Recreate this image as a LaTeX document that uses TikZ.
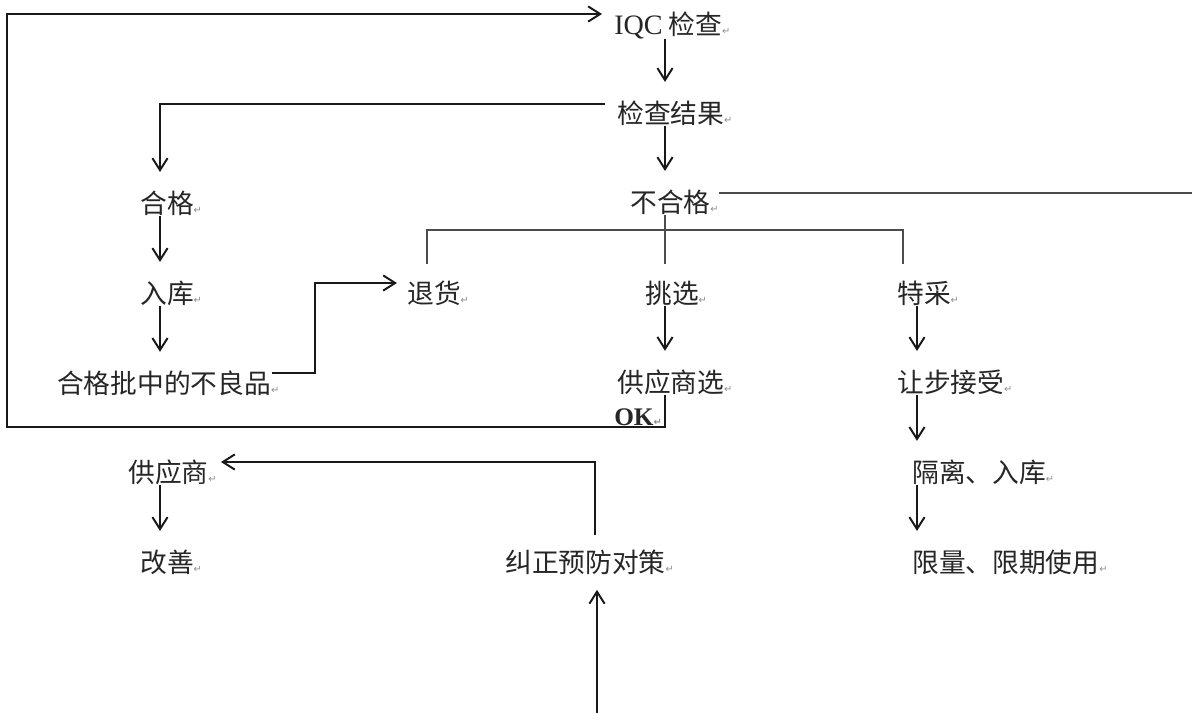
\documentclass[tikz,border=0pt]{standalone}
\usepackage{fontspec}
\usepackage{xcolor}
\usepackage{tikz}
\usetikzlibrary{arrows.meta,positioning,calc}
\setmainfont{Liberation Serif}
\newfontfamily\cjk{Noto Sans CJK SC}
\newfontfamily\symfont{DejaVu Sans}
\newcommand{\parmk}{{\symfont\fontsize{7}{7}\selectfont\color{black!45}↵}}

\begin{document}
\begin{tikzpicture}[
  x=0.025cm, y=-0.025cm,
  lbl/.style={anchor=west, inner sep=0pt, font=\cjk\fontsize{19}{22}\selectfont, text=black!85},
  >={Straight Barb[length=3mm,width=3.8mm]},
  arrline/.style={->, line width=1.4pt, black!90},
  downarr/.style={arrline, shorten >=4.6mm},
  conn/.style={line width=1pt, black!70},
]
\useasboundingbox (0,0) rectangle (1192,713);

% ============ column axes and bend points ============
\coordinate (colL) at (160,0);
\coordinate (colM) at (665,0);
\coordinate (colS) at (917,0);
\coordinate (xRet) at (427,0);
\coordinate (xSpecT) at (903,0);
\coordinate (xCorr) at (595,0);
\coordinate (split) at (665,230);
\coordinate (edgeR) at (1192,193);
\coordinate (jog) at (315,283);
\coordinate (loopB) at (7,427);
\coordinate (loopT) at (7,14);
\coordinate (bot) at (597,713);

% ============ main column ============
\node[lbl] (iqc) at (614,25) {{\rmfamily\fontsize{20}{22}\selectfont IQC} 检查\parmk};
\node[lbl] (result) at (617,113) {检查结果\parmk};
\node[lbl] (unq) at (630,202) {不合格\parmk};

% ============ pass branch (left) ============
\node[lbl] (pass) at (140,203) {合格\parmk};
\node[lbl] (store) at (140,293) {入库\parmk};
\node[lbl] (bad) at (57,383) {合格批中的不良品\parmk};

% ============ reject branches ============
\node[lbl] (ret) at (407,293) {退货\parmk};
\node[lbl] (pick) at (645,293) {挑选\parmk};
\node[lbl] (spsel) at (617,382) {供应商选\parmk};
\node[lbl, font=\rmfamily\bfseries\fontsize{18}{20}\selectfont] (ok) at (614,417) {OK\parmk};
\node[lbl] (spec) at (897,293) {特采\parmk};
\node[lbl] (conc) at (897,382) {让步接受\parmk};
\node[lbl] (iso) at (912,472) {隔离、入库\parmk};
\node[lbl] (limit) at (912,562) {限量、限期使用\parmk};

% ============ supplier / corrective action ============
\node[lbl] (sup) at (128,472) {供应商\parmk};
\node[lbl] (impr) at (140,562) {改善\parmk};
\node[lbl] (corr) at (505,562) {纠正预防对策\parmk};

% ===================== ARROWS =====================

% IQC -> result -> not passed
\draw[downarr] (iqc.south -| colM) -- (result.north -| colM);
\draw[downarr] (result.south -| colM) -- (unq.north -| colM);

% result -> left -> passed
\draw[downarr] ([xshift=-3mm,yshift=-1mm]result.north west) -| (pass.north -| colL);
\draw[downarr] (pass.south -| colL) -- (store.north -| colL);
\draw[downarr] (store.south -| colL) -- (bad.north -| colL);

% not passed -> out to the right edge
\draw[conn] (unq.north east |- edgeR) -- (edgeR);

% not passed splits into return / pick / special
\draw[conn, shorten >=4mm] (unq.south -| colM) -- (pick.north -| colM);
\draw[conn, shorten <=4mm, shorten >=4mm] (ret.north -| xRet) |- (split) -| (spec.north -| xSpecT);

% defects found in passed lots -> return
\draw[arrline] ([shift={(-8,-10)}]bad.east) -| (jog) -- ([shift={(-10,-10)}]ret.west);

% pick -> supplier sorting -> back to IQC
\draw[downarr] (pick.south -| colM) -- (spsel.north -| colM);
\draw[arrline, shorten >=3mm] (spsel.south -| colM) |- (loopB) -- (loopT) -- (loopT -| iqc.west);

% special acceptance chain
\draw[downarr] (spec.south -| colS) -- (conc.north -| colS);
\draw[downarr] (conc.south -| colS) -- (iso.north -| colS);
\draw[downarr] (iso.south -| colS) -- (limit.north -| colS);

% corrective action -> supplier -> improve
\draw[arrline, shorten <=3.5mm, shorten >=1mm] (corr.north -| xCorr) |- ([yshift=2.5mm]sup.east);
\draw[downarr] (sup.south -| colL) -- (impr.north -| colL);
\draw[arrline, shorten >=3.8mm] (bot) -- (corr.south -| bot);

\end{tikzpicture}
\end{document}
